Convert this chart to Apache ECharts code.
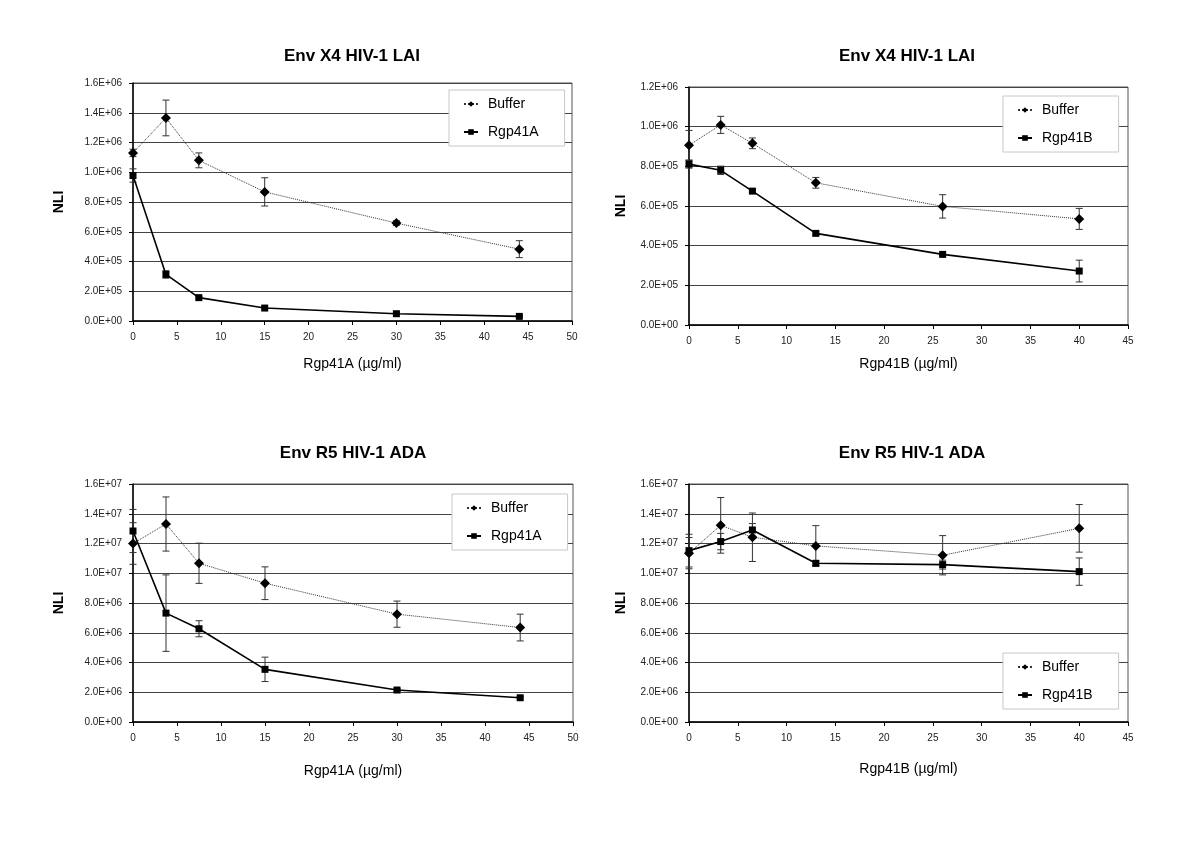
<!DOCTYPE html>
<html>
<head>
<meta charset="utf-8">
<script src="https://cdn.jsdelivr.net/npm/echarts@6/dist/echarts.min.js"></script>
<style>html,body{margin:0;padding:0;background:#fff}#c{width:1200px;height:848px}</style>
</head>
<body>
<div id="c"></div>
<script>
// ---- data ----
const titles = ['Env X4 HIV-1 LAI', 'Env X4 HIV-1 LAI', 'Env R5 HIV-1 ADA', 'Env R5 HIV-1 ADA'];
const xNames = ['Rgp41A (\u00b5g/ml)', 'Rgp41B (\u00b5g/ml)', 'Rgp41A (\u00b5g/ml)', 'Rgp41B (\u00b5g/ml)'];
const yName = 'NLI';
const xMax = [50, 45, 50, 45];
const yMax = [1.6e6, 1.2e6, 1.6e7, 1.6e7];
const yStep = [2e5, 2e5, 2e6, 2e6];

const doseA = [0, 3.75, 7.5, 15, 30, 44];
const doseB = [0, 3.25, 6.5, 13, 26, 40];

// Panel 1: Env X4 HIV-1 LAI, Rgp41A
const laiBufferA = [1.13e6, 1.365e6, 1.08e6, 0.868e6, 0.658e6, 0.483e6];
const laiBufferAErr = [0.025e6, 0.12e6, 0.05e6, 0.095e6, 0.015e6, 0.057e6];
const laiRgp41A = [0.978e6, 0.313e6, 0.157e6, 0.087e6, 0.049e6, 0.031e6];
const laiRgp41AErr = [0.045e6, 0.025e6, 0.008e6, 0.006e6, 0.005e6, 0.004e6];

// Panel 2: Env X4 HIV-1 LAI, Rgp41B
const laiBufferB = [0.906e6, 1.009e6, 0.916e6, 0.717e6, 0.598e6, 0.535e6];
const laiBufferBErr = [0.075e6, 0.043e6, 0.027e6, 0.027e6, 0.059e6, 0.053e6];
const laiRgp41B = [0.811e6, 0.78e6, 0.675e6, 0.462e6, 0.356e6, 0.272e6];
const laiRgp41BErr = [0.02e6, 0.021e6, 0.008e6, 0.008e6, 0.006e6, 0.055e6];

// Panel 3: Env R5 HIV-1 ADA, Rgp41A
const adaBufferA = [12.0e6, 13.31e6, 10.67e6, 9.33e6, 7.25e6, 6.35e6];
const adaBufferAErr = [1.4e6, 1.82e6, 1.35e6, 1.1e6, 0.88e6, 0.9e6];
const adaRgp41A = [12.84e6, 7.32e6, 6.27e6, 3.54e6, 2.15e6, 1.63e6];
const adaRgp41AErr = [1.45e6, 2.57e6, 0.54e6, 0.82e6, 0.1e6, 0.08e6];

// Panel 4: Env R5 HIV-1 ADA, Rgp41B
const adaBufferB = [11.35e6, 13.22e6, 12.42e6, 11.84e6, 11.21e6, 13.02e6];
const adaBufferBErr = [1.05e6, 1.87e6, 1.63e6, 1.36e6, 1.32e6, 1.6e6];
const adaRgp41B = [11.52e6, 12.13e6, 12.91e6, 10.67e6, 10.58e6, 10.11e6];
const adaRgp41BErr = [1.1e6, 0.55e6, 0.43e6, 0.15e6, 0.3e6, 0.92e6];

const panels = [
  {dose: doseA, buf: laiBufferA, bufErr: laiBufferAErr, trt: laiRgp41A, trtErr: laiRgp41AErr, trtName: 'Rgp41A'},
  {dose: doseB, buf: laiBufferB, bufErr: laiBufferBErr, trt: laiRgp41B, trtErr: laiRgp41BErr, trtName: 'Rgp41B'},
  {dose: doseA, buf: adaBufferA, bufErr: adaBufferAErr, trt: adaRgp41A, trtErr: adaRgp41AErr, trtName: 'Rgp41A'},
  {dose: doseB, buf: adaBufferB, bufErr: adaBufferBErr, trt: adaRgp41B, trtErr: adaRgp41BErr, trtName: 'Rgp41B'}
];

// ---- layout ----
const FONT = 'Liberation Sans, Arial, sans-serif';
const grids = [
  {left: 133, top: 83, width: 439, height: 238},
  {left: 689, top: 87, width: 439, height: 238},
  {left: 133, top: 484, width: 440, height: 238},
  {left: 689, top: 484, width: 439, height: 238}
];
const titlePos = [[352, 48], [907, 48], [353, 445], [912, 445]];
const xNameGap = [36, 32, 42, 40];
const yNameGap = [67, 61, 67, 61];
const legendPos = [[449, 90], [1003, 96], [452, 494], [1003, 653]];

function fmtE(v) {
  const s = Number(v).toExponential(1);
  const parts = s.split('e');
  const sign = parts[1][0];
  const d = parts[1].slice(1).padStart(2, '0');
  return parts[0] + 'E' + sign + d;
}

function errRender(params, api) {
  const x = api.value(0);
  const lo = api.coord([x, api.value(1)]);
  const hi = api.coord([x, api.value(2)]);
  const w = 3.5;
  const st = {stroke: '#333', lineWidth: 1};
  return {
    type: 'group',
    children: [
      {type: 'line', shape: {x1: lo[0], y1: lo[1], x2: hi[0], y2: hi[1]}, style: st},
      {type: 'line', shape: {x1: lo[0] - w, y1: lo[1], x2: lo[0] + w, y2: lo[1]}, style: st},
      {type: 'line', shape: {x1: hi[0] - w, y1: hi[1], x2: hi[0] + w, y2: hi[1]}, style: st}
    ]
  };
}

const option = {
  animation: false,
  backgroundColor: '#fff',
  textStyle: {fontFamily: FONT},
  title: titles.map((t, i) => ({
    text: t, left: titlePos[i][0], top: titlePos[i][1], textAlign: 'center', padding: 0,
    textStyle: {fontFamily: FONT, fontSize: 17, fontWeight: 'bold', color: '#000'}
  })),
  legend: panels.map((p, i) => ({
    data: ['Buffer', p.trtName],
    left: legendPos[i][0], top: legendPos[i][1],
    orient: 'vertical',
    backgroundColor: '#fff',
    borderColor: '#c8c8c8', borderWidth: 1, borderRadius: 0,
    padding: [7, 26, 7, 14],
    itemWidth: 14, itemHeight: 7, itemGap: 14,
    selectedMode: false,
    textStyle: {fontFamily: FONT, fontSize: 14, color: '#000', padding: [0, 0, 0, 5]},
    z: 10
  })),
  grid: grids.map(g => Object.assign({show: true, borderColor: '#555', borderWidth: 1, backgroundColor: 'transparent', containLabel: false}, g)),
  xAxis: panels.map((p, i) => ({
    type: 'value', gridIndex: i, min: 0, max: xMax[i], interval: 5,
    name: xNames[i], nameLocation: 'middle', nameGap: xNameGap[i],
    nameTextStyle: {fontFamily: FONT, fontSize: 14, color: '#000'},
    axisLine: {onZero: false, lineStyle: {color: '#000', width: 1.5}},
    axisTick: {show: true, inside: false, length: 4, lineStyle: {color: '#000'}},
    axisLabel: {fontFamily: FONT, fontSize: 10, color: '#222', margin: 11},
    splitLine: {show: false}
  })),
  yAxis: panels.map((p, i) => ({
    type: 'value', gridIndex: i, min: 0, max: yMax[i], interval: yStep[i],
    name: yName, nameLocation: 'middle', nameGap: yNameGap[i],
    nameTextStyle: {fontFamily: FONT, fontSize: 14, fontWeight: 'bold', color: '#000'},
    axisLine: {show: true, lineStyle: {color: '#000', width: 1.5}},
    axisTick: {show: true, inside: false, length: 4, lineStyle: {color: '#000'}},
    axisLabel: {fontFamily: FONT, fontSize: 10, color: '#222', margin: 11, formatter: fmtE},
    splitLine: {show: true, lineStyle: {color: '#444', width: 1}}
  })),
  series: []
};

panels.forEach((p, i) => {
  option.series.push({
    type: 'custom', name: 'errBuffer' + i, xAxisIndex: i, yAxisIndex: i,
    renderItem: errRender, encode: {x: 0, y: [1, 2]}, z: 1,
    data: p.dose.map((d, k) => [d, p.buf[k] - p.bufErr[k], p.buf[k] + p.bufErr[k]])
  });
  option.series.push({
    type: 'custom', name: 'errTrt' + i, xAxisIndex: i, yAxisIndex: i,
    renderItem: errRender, encode: {x: 0, y: [1, 2]}, z: 1,
    data: p.dose.map((d, k) => [d, p.trt[k] - p.trtErr[k], p.trt[k] + p.trtErr[k]])
  });
  option.series.push({
    type: 'line', name: 'Buffer', xAxisIndex: i, yAxisIndex: i, z: 3,
    symbol: 'diamond', symbolSize: 10,
    lineStyle: {color: '#333', width: 1, type: 'dotted'},
    itemStyle: {color: '#000'},
    data: p.dose.map((d, k) => [d, p.buf[k]])
  });
  option.series.push({
    type: 'line', name: p.trtName, xAxisIndex: i, yAxisIndex: i, z: 4,
    symbol: 'rect', symbolSize: 7,
    lineStyle: {color: '#000', width: 1.6, type: 'solid'},
    itemStyle: {color: '#000'},
    data: p.dose.map((d, k) => [d, p.trt[k]])
  });
});

const chart = echarts.init(document.getElementById('c'), null, {renderer: 'canvas'});
chart.setOption(option);
</script>
</body>
</html>
